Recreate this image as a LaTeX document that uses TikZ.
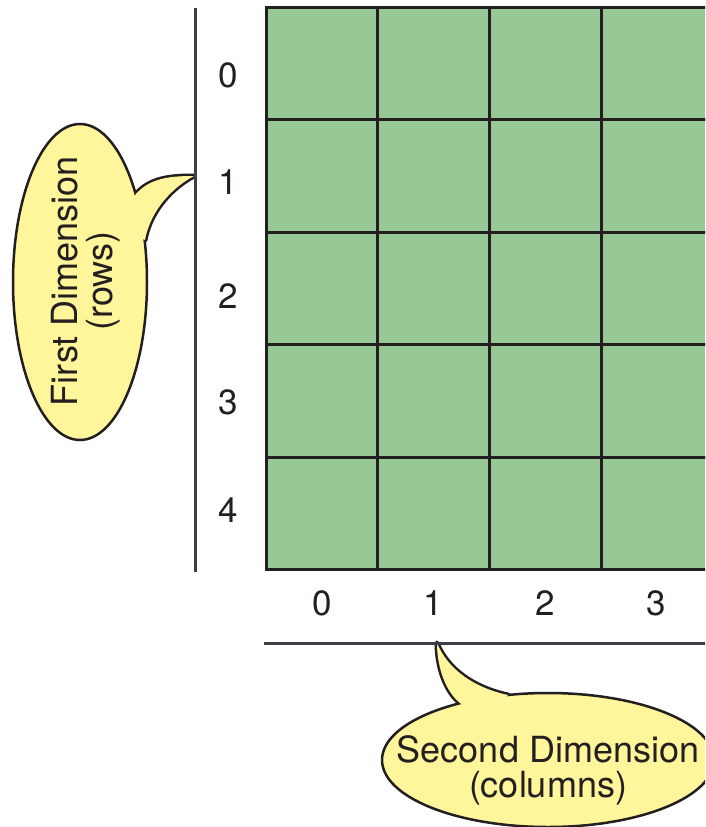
\documentclass[tikz,border=0pt]{standalone}
\usepackage{fontspec}
\setmainfont{TeX Gyre Heros}
\usetikzlibrary{shapes.geometric}
\definecolor{cellgreen}{RGB}{150,201,150}
\definecolor{calloutyellow}{RGB}{255,245,155}
\definecolor{ink}{RGB}{35,31,32}
\definecolor{axisgray}{RGB}{62,62,68}
\tikzset{
  cell/.style={rectangle, draw=ink, line width=3pt, fill=cellgreen, minimum width=111.7pt, minimum height=112.5pt, inner sep=0pt},
  num/.style={font=\fontsize{35}{36}\selectfont, text=ink, inner sep=0pt},
  axisline/.style={draw=axisgray, line width=3pt},
  tailshape/.style={draw=ink, line width=5pt, fill=calloutyellow, line join=round},
  bubble/.style={ellipse, draw=ink, line width=2.5pt, fill=calloutyellow, inner sep=0pt},
  btext/.style={font=\fontsize{36}{35}\selectfont, text=ink, align=center, inner sep=0pt}
}
\begin{document}
\begin{tikzpicture}[x=1pt,y=-1pt]
\clip (0,0) rectangle (705,827);
\fill[white] (0,0) rectangle (705,827);
% grid
\foreach \r in {0,...,4}
  \foreach \c in {0,...,3}
    \node[cell] (c\r\c) at ({266+111.7*(\c+0.5)}, {7+112.5*(\r+0.5)}) {};
% labels
\foreach \r/\y in {0/75,1/182,2/296,3/402,4/510}
  \node[num] (r\r) at (228,\y) {\r};
\foreach \c/\x in {0/322,1/433,2/545,3/656}
  \node[num] (k\c) at (\x,603) {\c};
% callout 1
\path[tailshape] (136,194) .. controls (150,178) and (170,176) .. (194,176)
   .. controls (175,186) and (151,208) .. (145,240) -- (115,225) -- cycle;
\node[bubble, minimum width=316pt, minimum height=134pt, rotate=90] (e1) at (80,282) {};
\fill[calloutyellow] (136,194) .. controls (150,178) and (170,176) .. (194,176)
   .. controls (175,186) and (151,208) .. (145,240) -- (115,225) -- cycle;
\node[btext, rotate=90] (t1) at (86,281) {First Dimension\\(rows)};
% callout 2
\path[tailshape] (437,643) .. controls (437,668) and (446,692) .. (460,703)
   -- (485,725) -- (508,695) .. controls (475,688) and (448,670) .. (437,643) -- cycle;
\node[bubble, minimum width=332pt, minimum height=134pt] (e2) at (548,760) {};
\fill[calloutyellow] (437,643) .. controls (437,668) and (446,692) .. (460,703)
   -- (485,725) -- (508,695) .. controls (475,688) and (448,670) .. (437,643) -- cycle;
\node[btext] (t2) at (548,770) {Second Dimension\\(columns)};
% axis lines
\coordinate (va) at (195,8);
\coordinate (vb) at (195,572);
\coordinate (ha) at (264,643);
\coordinate (hb) at (706,643);
\draw[axisline] (va) -- (vb);
\draw[axisline] (ha) -- (hb);
\end{tikzpicture}
\end{document}
